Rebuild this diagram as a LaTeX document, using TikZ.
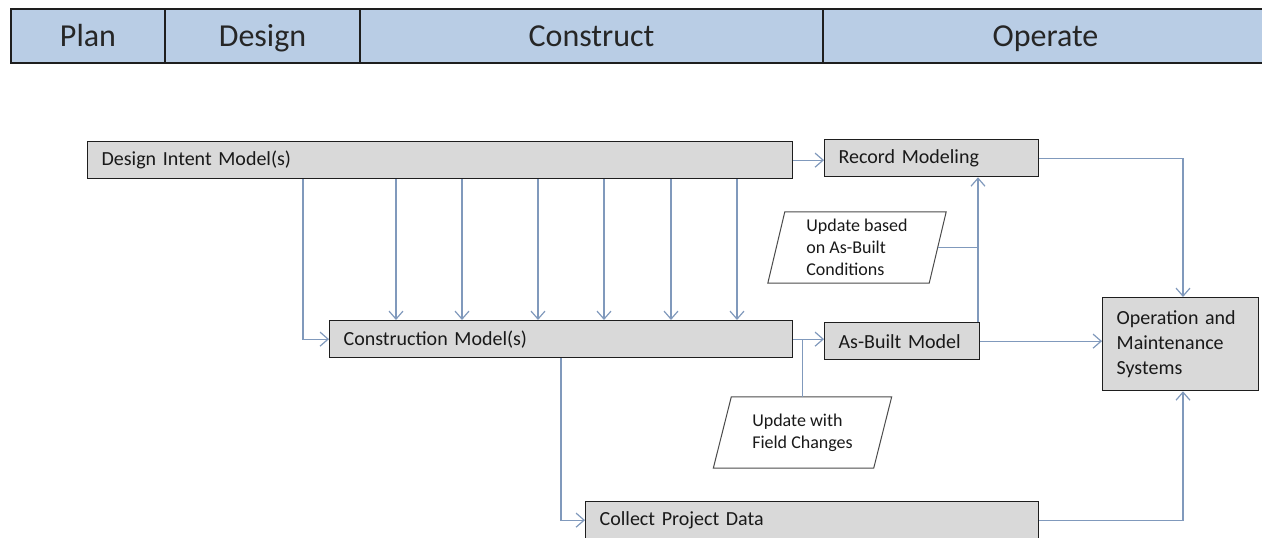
\documentclass[tikz,border=0pt]{standalone}
\usepackage{fontspec}
\setmainfont{Carlito}
\usetikzlibrary{arrows.meta,positioning,calc,backgrounds}
\definecolor{phaseblue}{RGB}{185,205,229}
\definecolor{boxgray}{RGB}{217,217,217}
\definecolor{flowblue}{RGB}{128,153,188}
\definecolor{edgegray}{RGB}{30,30,30}

\tikzset{
  phase/.style={draw=edgegray, line width=1.3pt, fill=phaseblue, minimum height=54pt,
    outer sep=0pt, inner sep=0pt, text height=27pt, text depth=6.4pt,
    font=\fontsize{32}{38}\selectfont, text=black!85},
  box/.style={draw=edgegray, line width=1.3pt, fill=boxgray, anchor=north west,
    minimum height=37pt, inner xsep=14pt, inner ysep=0pt, align=left,
    font=\fontsize{20}{25}\selectfont, text=black!90},
  note/.style={inner sep=0pt, minimum height=71pt, align=left,
    font=\fontsize{18}{22}\selectfont, text=black!90},
  noteline/.style={draw=edgegray!80, line width=1pt, fill=white},
  flow/.style={draw=flowblue, line width=1.2pt, -{Straight Barb[length=8pt,width=14pt]}},
  link/.style={draw=flowblue, line width=1.2pt},
}

\begin{document}
\begin{tikzpicture}[x=1pt, y=-1pt]
    \useasboundingbox (0,0) rectangle (1262,538);
    % Phase bar
    \node[phase, minimum width=154pt, anchor=north west] (plan) at (11,9) {Plan};
    \node[phase, minimum width=195pt, right=0pt of plan] (design) {Design};
    \node[phase, minimum width=463pt, right=0pt of design] (construct) {Construct};
    \node[phase, minimum width=445pt, right=0pt of construct] (operate) {Operate};
    % Models
    \node[box, text width=677pt] (intent) at (87,141) {Design Intent Model(s)};
    \node[box, text width=186pt] (record) at (824,139) {Record Modeling};
    \node[box, text width=435pt] (construction) at (329,320) {Construction Model(s)};
    \node[box, text width=127pt] (asbuilt) at (824,322) {As-Built Model};
    \node[box, text width=425pt] (collect) at (585,501) {Collect Project Data};
    \node[box, text width=128pt, minimum height=93pt] (operation) at (1102,297)
         {Operation and\\Maintenance\\Systems};
    % Update notes
    \node[note, minimum width=161pt] (basednote) at (857,247.5)
         {Update based\\on As-Built\\Conditions};
    \node[note, minimum width=160pt] (fieldnote) at (802.5,432.5)
         {Update with\\Field Changes};
    \begin{scope}[on background layer]
        \draw[noteline] ($(basednote.south west)+(-8.5,0)$) -- ($(basednote.north west)+(8.5,0)$)
             -- ($(basednote.north east)+(8.5,0)$) -- ($(basednote.south east)+(-8.5,0)$) -- cycle;
        \draw[noteline] ($(fieldnote.south west)+(-9,0)$) -- ($(fieldnote.north west)+(9,0)$)
             -- ($(fieldnote.north east)+(9,0)$) -- ($(fieldnote.south east)+(-9,0)$) -- cycle;
    \end{scope}
    % Guide coordinates
    \coordinate (riser) at (978,0);
    \coordinate (drop) at (1183,0);
    % Connectors
    \draw[flow] (intent.east) -- (intent.east -| record.west);
    \draw[flow] ($(intent.south west)+(216,0)$) |- (construction.west);
    \foreach \xx in {396,462,538,604,671,737} {
        \coordinate (tap) at (\xx,0);
        \draw[flow] (intent.south -| tap) -- (construction.north -| tap);
    }
    \draw[flow] (construction.east) -- (construction.east -| asbuilt.west);
    \draw[link] (construction.east -| fieldnote.north) -- (fieldnote.north);
    \draw[flow] ($(construction.south west)+(232,0)$) |- (collect.west);
    \draw[flow] (asbuilt.north -| riser) -- (record.south -| riser);
    \draw[link] (basednote.east) -- (basednote.east -| riser);
    \draw[flow] (asbuilt.east) -- (asbuilt.east -| operation.west);
    \draw[flow] (record.east) -| (drop |- operation.north);
    \draw[flow] (collect.east) -| (drop |- operation.south);
\end{tikzpicture}
\end{document}
